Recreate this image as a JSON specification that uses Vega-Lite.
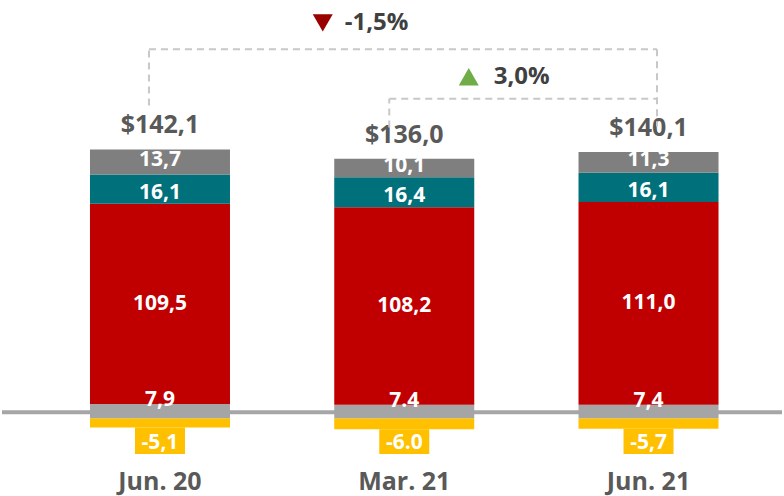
{
  "$schema": "https://vega.github.io/schema/vega-lite/v6.json",
  "width": 784,
  "height": 496,
  "autosize": {"type": "fit", "contains": "padding"},
  "padding": 0,
  "background": "white",
  "config": {
    "view": {"stroke": null},
    "locale": {"number": {"decimal": ",", "thousands": ".", "grouping": [3], "currency": ["$", ""]}},
    "text": {"font": "Open Sans", "fontWeight": "bold", "baseline": "middle"}
  },
  "datasets": {
    "segments": [
      {"period": "Jun. 20", "series": "S1", "order": 1, "value": -5.1, "label": "-5,1"},
      {"period": "Jun. 20", "series": "S2", "order": 2, "value": 7.9, "label": "7,9"},
      {"period": "Jun. 20", "series": "S3", "order": 3, "value": 109.5, "label": "109,5"},
      {"period": "Jun. 20", "series": "S4", "order": 4, "value": 16.1, "label": "16,1"},
      {"period": "Jun. 20", "series": "S5", "order": 5, "value": 13.7, "label": "13,7"},
      {"period": "Mar. 21", "series": "S1", "order": 1, "value": -6.0, "label": "-6.0"},
      {"period": "Mar. 21", "series": "S2", "order": 2, "value": 7.4, "label": "7.4"},
      {"period": "Mar. 21", "series": "S3", "order": 3, "value": 108.2, "label": "108,2"},
      {"period": "Mar. 21", "series": "S4", "order": 4, "value": 16.4, "label": "16,4"},
      {"period": "Mar. 21", "series": "S5", "order": 5, "value": 10.1, "label": "10,1"},
      {"period": "Jun. 21", "series": "S1", "order": 1, "value": -5.7, "label": "-5,7"},
      {"period": "Jun. 21", "series": "S2", "order": 2, "value": 7.4, "label": "7,4"},
      {"period": "Jun. 21", "series": "S3", "order": 3, "value": 111.0, "label": "111,0"},
      {"period": "Jun. 21", "series": "S4", "order": 4, "value": 16.1, "label": "16,1"},
      {"period": "Jun. 21", "series": "S5", "order": 5, "value": 11.3, "label": "11,3"}
    ],
    "totals": [
      {"period": "Jun. 20", "total": 142.1},
      {"period": "Mar. 21", "total": 136.0},
      {"period": "Jun. 21", "total": 140.1}
    ],
    "changes": [
      {"from": "Jun. 20", "to": "Jun. 21", "label": "-1,5%", "dir": "down"},
      {"from": "Mar. 21", "to": "Jun. 21", "label": "3,0%", "dir": "up"}
    ]
  },
  "data": {"name": "segments"},
  "transform": [
    {"stack": "value", "groupby": ["period"], "sort": [{"field": "order", "order": "ascending"}], "as": ["v0", "v1"], "offset": "zero"},
    {"calculate": "(datum.v0 + datum.v1) / 2", "as": "mid"}
  ],
  "layer": [
    {
      "data": {"name": "changes"},
      "transform": [{"filter": "datum.dir == 'down'"}],
      "mark": {"type": "rule", "color": "#a6a6a6", "strokeWidth": 4},
      "encoding": {
        "y": {"datum": 3.3, "type": "quantitative", "scale": {"domain": [-41.44, 229.01], "nice": false, "zero": false}, "axis": null}
      }
    },
    {
      "mark": {"type": "bar"},
      "encoding": {
        "x": {"field": "period", "type": "nominal", "axis": null, "scale": {"domain": ["Jun. 20", "Mar. 21", "Jun. 21"], "range": [14.7, 789.8], "paddingInner": 0.4268, "paddingOuter": 0.3}},
        "y": {"field": "v0", "type": "quantitative", "scale": {"domain": [-41.44, 229.01], "nice": false, "zero": false}, "axis": null},
        "y2": {"field": "v1"},
        "color": {"field": "series", "type": "nominal", "legend": null, "scale": {"domain": ["S1", "S2", "S3", "S4", "S5"], "range": ["#ffc000", "#a5a5a5", "#c00000", "#00707a", "#7f7f7f"]}}
      }
    },
    {
      "transform": [{"filter": "datum.value < 0"}],
      "mark": {"type": "bar", "width": 50, "color": "#ffc000"},
      "encoding": {
        "x": {"field": "period", "type": "nominal", "axis": null, "scale": {"domain": ["Jun. 20", "Mar. 21", "Jun. 21"], "range": [14.7, 789.8], "paddingInner": 0.4268, "paddingOuter": 0.3}},
        "y": {"field": "value", "type": "quantitative", "scale": {"domain": [-41.44, 229.01], "nice": false, "zero": false}, "axis": null},
        "y2": {"datum": -19.6}
      }
    },
    {
      "transform": [{"filter": "datum.value < 0"}],
      "mark": {"type": "text", "color": "white", "fontSize": 21},
      "encoding": {
        "x": {"field": "period", "type": "nominal", "axis": null, "scale": {"domain": ["Jun. 20", "Mar. 21", "Jun. 21"], "range": [14.7, 789.8], "paddingInner": 0.4268, "paddingOuter": 0.3}},
        "y": {"datum": -13.3, "type": "quantitative", "scale": {"domain": [-41.44, 229.01], "nice": false, "zero": false}, "axis": null},
        "text": {"field": "label"}
      }
    },
    {
      "transform": [{"filter": "datum.series == 'S3'"}],
      "mark": {"type": "text", "color": "white", "fontSize": 21},
      "encoding": {
        "x": {"field": "period", "type": "nominal", "axis": null, "scale": {"domain": ["Jun. 20", "Mar. 21", "Jun. 21"], "range": [14.7, 789.8], "paddingInner": 0.4268, "paddingOuter": 0.3}},
        "y": {"field": "mid", "type": "quantitative", "scale": {"domain": [-41.44, 229.01], "nice": false, "zero": false}, "axis": null},
        "text": {"field": "label"}
      }
    },
    {
      "transform": [{"filter": "datum.series == 'S4'"}],
      "mark": {"type": "text", "color": "white", "fontSize": 21, "dy": 4},
      "encoding": {
        "x": {"field": "period", "type": "nominal", "axis": null, "scale": {"domain": ["Jun. 20", "Mar. 21", "Jun. 21"], "range": [14.7, 789.8], "paddingInner": 0.4268, "paddingOuter": 0.3}},
        "y": {"field": "mid", "type": "quantitative", "scale": {"domain": [-41.44, 229.01], "nice": false, "zero": false}, "axis": null},
        "text": {"field": "label"}
      }
    },
    {
      "transform": [{"filter": "datum.series == 'S5'"}],
      "mark": {"type": "text", "color": "white", "fontSize": 21, "dy": -2},
      "encoding": {
        "x": {"field": "period", "type": "nominal", "axis": null, "scale": {"domain": ["Jun. 20", "Mar. 21", "Jun. 21"], "range": [14.7, 789.8], "paddingInner": 0.4268, "paddingOuter": 0.3}},
        "y": {"field": "mid", "type": "quantitative", "scale": {"domain": [-41.44, 229.01], "nice": false, "zero": false}, "axis": null},
        "text": {"field": "label"}
      }
    },
    {
      "transform": [{"filter": "datum.series == 'S2'"}],
      "mark": {"type": "text", "color": "white", "fontSize": 21, "dy": -11},
      "encoding": {
        "x": {"field": "period", "type": "nominal", "axis": null, "scale": {"domain": ["Jun. 20", "Mar. 21", "Jun. 21"], "range": [14.7, 789.8], "paddingInner": 0.4268, "paddingOuter": 0.3}},
        "y": {"field": "mid", "type": "quantitative", "scale": {"domain": [-41.44, 229.01], "nice": false, "zero": false}, "axis": null},
        "text": {"field": "label"}
      }
    },
    {
      "transform": [
        {"filter": "datum.series == 'S5'"},
        {"lookup": "period", "from": {"data": {"name": "totals"}, "key": "period", "fields": ["total"]}}
      ],
      "mark": {"type": "text", "color": "#595959", "fontSize": 25, "dy": -24},
      "encoding": {
        "x": {"field": "period", "type": "nominal", "axis": null, "scale": {"domain": ["Jun. 20", "Mar. 21", "Jun. 21"], "range": [14.7, 789.8], "paddingInner": 0.4268, "paddingOuter": 0.3}},
        "y": {"field": "v1", "type": "quantitative", "scale": {"domain": [-41.44, 229.01], "nice": false, "zero": false}, "axis": null},
        "text": {"field": "total", "type": "quantitative", "format": "$.1f"}
      }
    },
    {
      "transform": [{"filter": "datum.series == 'S5'"}],
      "mark": {"type": "text", "color": "#595959", "fontSize": 25},
      "encoding": {
        "x": {"field": "period", "type": "nominal", "axis": null, "scale": {"domain": ["Jun. 20", "Mar. 21", "Jun. 21"], "range": [14.7, 789.8], "paddingInner": 0.4268, "paddingOuter": 0.3}},
        "y": {"datum": -34.9, "type": "quantitative", "scale": {"domain": [-41.44, 229.01], "nice": false, "zero": false}, "axis": null},
        "text": {"field": "period"}
      }
    },
    {
      "data": {"name": "changes"},
      "transform": [{"filter": "datum.dir == 'down'"}],
      "mark": {"type": "rule", "color": "#c8c8c8", "strokeWidth": 2, "strokeDash": [7, 5], "xOffset": -11},
      "encoding": {
        "x": {"field": "from", "type": "nominal", "axis": null, "scale": {"domain": ["Jun. 20", "Mar. 21", "Jun. 21"], "range": [14.7, 789.8], "paddingInner": 0.4268, "paddingOuter": 0.3}},
        "y": {"datum": 171.2, "type": "quantitative", "scale": {"domain": [-41.44, 229.01], "nice": false, "zero": false}, "axis": null},
        "y2": {"datum": 202.0}
      }
    },
    {
      "data": {"name": "changes"},
      "transform": [{"filter": "datum.dir == 'down'"}],
      "mark": {"type": "rule", "color": "#c8c8c8", "strokeWidth": 2, "strokeDash": [7, 5], "xOffset": -11, "x2Offset": 8.5},
      "encoding": {
        "x": {"field": "from", "type": "nominal", "axis": null, "scale": {"domain": ["Jun. 20", "Mar. 21", "Jun. 21"], "range": [14.7, 789.8], "paddingInner": 0.4268, "paddingOuter": 0.3}},
        "x2": {"field": "to"},
        "y": {"datum": 202.0, "type": "quantitative", "scale": {"domain": [-41.44, 229.01], "nice": false, "zero": false}, "axis": null}
      }
    },
    {
      "data": {"name": "changes"},
      "transform": [{"filter": "datum.dir == 'down'"}],
      "mark": {"type": "rule", "color": "#c8c8c8", "strokeWidth": 2, "strokeDash": [7, 5], "xOffset": 8.5},
      "encoding": {
        "x": {"field": "to", "type": "nominal", "axis": null, "scale": {"domain": ["Jun. 20", "Mar. 21", "Jun. 21"], "range": [14.7, 789.8], "paddingInner": 0.4268, "paddingOuter": 0.3}},
        "y": {"datum": 202.0, "type": "quantitative", "scale": {"domain": [-41.44, 229.01], "nice": false, "zero": false}, "axis": null},
        "y2": {"datum": 159.8}
      }
    },
    {
      "data": {"name": "changes"},
      "transform": [{"filter": "datum.dir == 'up'"}],
      "mark": {"type": "rule", "color": "#c8c8c8", "strokeWidth": 2, "strokeDash": [7, 5], "xOffset": -15},
      "encoding": {
        "x": {"field": "from", "type": "nominal", "axis": null, "scale": {"domain": ["Jun. 20", "Mar. 21", "Jun. 21"], "range": [14.7, 789.8], "paddingInner": 0.4268, "paddingOuter": 0.3}},
        "y": {"datum": 159.2, "type": "quantitative", "scale": {"domain": [-41.44, 229.01], "nice": false, "zero": false}, "axis": null},
        "y2": {"datum": 175.0}
      }
    },
    {
      "data": {"name": "changes"},
      "transform": [{"filter": "datum.dir == 'up'"}],
      "mark": {"type": "rule", "color": "#c8c8c8", "strokeWidth": 2, "strokeDash": [7, 5], "xOffset": -15, "x2Offset": 8.5},
      "encoding": {
        "x": {"field": "from", "type": "nominal", "axis": null, "scale": {"domain": ["Jun. 20", "Mar. 21", "Jun. 21"], "range": [14.7, 789.8], "paddingInner": 0.4268, "paddingOuter": 0.3}},
        "x2": {"field": "to"},
        "y": {"datum": 175.0, "type": "quantitative", "scale": {"domain": [-41.44, 229.01], "nice": false, "zero": false}, "axis": null}
      }
    },
    {
      "data": {"name": "changes"},
      "transform": [{"filter": "datum.dir == 'down'"}],
      "mark": {"type": "point", "shape": "triangle-down", "filled": true, "size": 400, "opacity": 1, "color": "#990000", "xOffset": -81.5},
      "encoding": {
        "x": {"datum": "Mar. 21", "type": "nominal", "axis": null, "scale": {"domain": ["Jun. 20", "Mar. 21", "Jun. 21"], "range": [14.7, 789.8], "paddingInner": 0.4268, "paddingOuter": 0.3}},
        "y": {"datum": 216.5, "type": "quantitative", "scale": {"domain": [-41.44, 229.01], "nice": false, "zero": false}, "axis": null}
      }
    },
    {
      "data": {"name": "changes"},
      "transform": [{"filter": "datum.dir == 'down'"}],
      "mark": {"type": "text", "color": "#404040", "fontSize": 24, "align": "left", "dx": -59.5},
      "encoding": {
        "x": {"datum": "Mar. 21", "type": "nominal", "axis": null, "scale": {"domain": ["Jun. 20", "Mar. 21", "Jun. 21"], "range": [14.7, 789.8], "paddingInner": 0.4268, "paddingOuter": 0.3}},
        "y": {"datum": 216.5, "type": "quantitative", "scale": {"domain": [-41.44, 229.01], "nice": false, "zero": false}, "axis": null},
        "text": {"field": "label"}
      }
    },
    {
      "data": {"name": "changes"},
      "transform": [{"filter": "datum.dir == 'up'"}],
      "mark": {"type": "point", "shape": "triangle-up", "filled": true, "size": 400, "opacity": 1, "color": "#70ad47", "xOffset": 64.5},
      "encoding": {
        "x": {"datum": "Mar. 21", "type": "nominal", "axis": null, "scale": {"domain": ["Jun. 20", "Mar. 21", "Jun. 21"], "range": [14.7, 789.8], "paddingInner": 0.4268, "paddingOuter": 0.3}},
        "y": {"datum": 187.0, "type": "quantitative", "scale": {"domain": [-41.44, 229.01], "nice": false, "zero": false}, "axis": null}
      }
    },
    {
      "data": {"name": "changes"},
      "transform": [{"filter": "datum.dir == 'up'"}],
      "mark": {"type": "text", "color": "#404040", "fontSize": 24, "align": "left", "dx": 89.5},
      "encoding": {
        "x": {"datum": "Mar. 21", "type": "nominal", "axis": null, "scale": {"domain": ["Jun. 20", "Mar. 21", "Jun. 21"], "range": [14.7, 789.8], "paddingInner": 0.4268, "paddingOuter": 0.3}},
        "y": {"datum": 187.0, "type": "quantitative", "scale": {"domain": [-41.44, 229.01], "nice": false, "zero": false}, "axis": null},
        "text": {"field": "label"}
      }
    }
  ]
}
